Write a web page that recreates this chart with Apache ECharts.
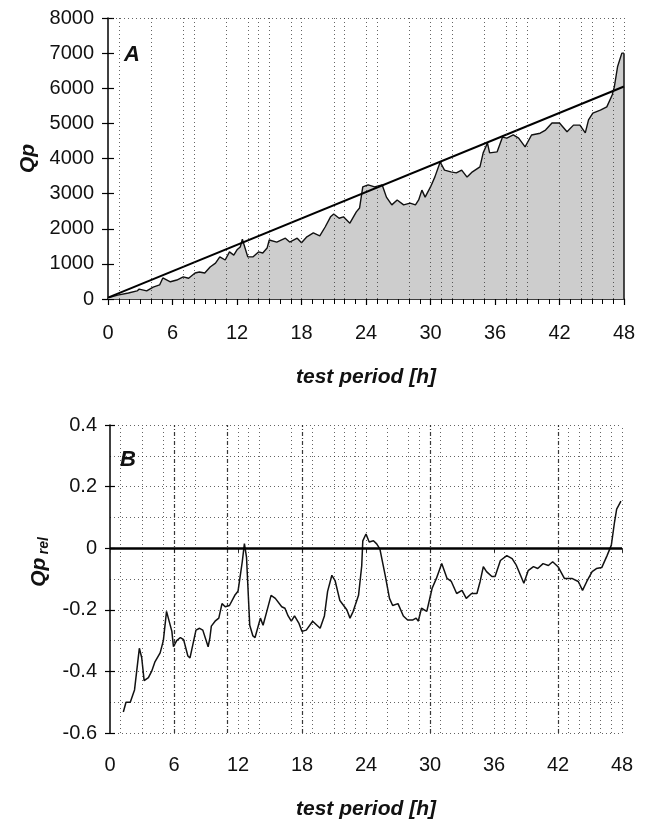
<!DOCTYPE html>
<html>
<head>
<meta charset="utf-8">
<style>html,body{margin:0;padding:0;background:#fff}#c{width:651px;height:821px}</style>
<script src="https://cdn.jsdelivr.net/npm/echarts@6/dist/echarts.min.js"></script>
</head>
<body>
<div id="c"></div>
<script>
// ---- data ----
var qpHours = [0,0.9,1.9,2.7,2.9,3.6,4.2,4.8,5.1,5.8,6.4,7.0,7.5,8.1,8.5,9.0,9.5,10.0,10.4,10.9,11.3,11.7,12.0,12.3,12.5,13.0,13.5,14.0,14.4,14.8,15.0,15.7,16.5,16.9,17.6,18.0,18.5,19.1,19.7,20.2,20.7,21.0,21.5,21.9,22.5,23.1,23.4,23.7,24.2,24.8,25.5,25.9,26.4,26.9,27.5,28.1,28.6,28.9,29.2,29.5,30.0,30.4,30.9,31.3,31.9,32.4,32.9,33.4,33.9,34.6,34.9,35.3,35.5,36.2,36.7,37.1,37.7,38.2,38.8,39.4,40.2,40.7,41.3,42.0,42.7,43.3,43.9,44.4,44.7,45.1,45.8,46.4,46.9,47.1,47.4,47.8,48.0];
var qpValues = [30,110,170,230,280,230,340,400,600,490,540,630,590,740,770,740,910,1020,1200,1110,1340,1250,1400,1480,1700,1200,1200,1340,1310,1450,1680,1620,1730,1620,1730,1600,1770,1880,1800,2050,2340,2420,2300,2340,2160,2480,2590,3190,3250,3190,3250,2900,2680,2820,2680,2730,2680,2820,3100,2900,3190,3470,3900,3670,3620,3590,3670,3470,3620,3760,4160,4440,4160,4190,4610,4580,4670,4580,4330,4670,4720,4810,5010,5010,4760,4950,4950,4730,5100,5290,5380,5470,5810,6040,6610,7000,7000];
var trendHours = [0, 48];
var trendValues = [40, 6050];
var relHours = [1.25,1.5,1.9,2.2,2.3,2.75,2.97,3.2,3.6,3.9,4.2,4.7,5.0,5.3,5.45,5.8,5.95,6.25,6.6,6.9,7.3,7.5,8.06,8.4,8.7,9.2,9.37,9.5,9.85,10.2,10.5,10.8,11.2,11.7,12.0,12.4,12.6,12.8,13.1,13.4,13.6,14.1,14.35,14.7,15.1,15.5,16.1,16.4,16.7,17.0,17.3,17.7,18.0,18.4,19.0,19.7,20.1,20.4,20.8,21.1,21.55,21.9,22.2,22.5,22.8,23.3,23.6,23.7,24.0,24.3,24.7,25.0,25.3,25.8,26.2,26.5,27.0,27.5,27.9,28.4,28.7,28.9,29.2,29.7,30.2,30.6,31.1,31.6,32.0,32.5,33.0,33.4,33.9,34.4,34.7,35.0,35.3,35.8,36.1,36.6,37.2,37.7,38.1,38.8,39.2,39.7,40.1,40.6,41.1,41.5,42.0,42.6,43.3,43.9,44.3,44.7,45.2,45.6,46.1,46.6,47.0,47.3,47.5,47.9];
var relValues = [-0.532,-0.50,-0.50,-0.47,-0.46,-0.325,-0.355,-0.43,-0.42,-0.40,-0.37,-0.34,-0.30,-0.205,-0.21,-0.27,-0.32,-0.30,-0.29,-0.297,-0.35,-0.356,-0.266,-0.26,-0.266,-0.32,-0.29,-0.253,-0.237,-0.227,-0.18,-0.19,-0.186,-0.153,-0.14,-0.044,0.015,-0.03,-0.25,-0.285,-0.29,-0.227,-0.25,-0.205,-0.153,-0.163,-0.19,-0.195,-0.22,-0.237,-0.22,-0.243,-0.27,-0.266,-0.237,-0.26,-0.22,-0.14,-0.088,-0.105,-0.17,-0.186,-0.20,-0.227,-0.205,-0.153,-0.057,0.024,0.046,0.020,0.024,0.014,-0.002,-0.088,-0.163,-0.186,-0.18,-0.22,-0.233,-0.233,-0.227,-0.237,-0.195,-0.205,-0.13,-0.098,-0.05,-0.098,-0.108,-0.147,-0.137,-0.163,-0.147,-0.147,-0.108,-0.06,-0.076,-0.092,-0.092,-0.04,-0.024,-0.034,-0.056,-0.114,-0.073,-0.06,-0.066,-0.05,-0.056,-0.044,-0.06,-0.098,-0.098,-0.108,-0.137,-0.108,-0.076,-0.066,-0.063,-0.024,0.01,0.085,0.127,0.153];
// vertical dotted event lines (hours)
var eventHoursA = [1,4,7,8,11,13,14,15,17,18,21,22,24,25,28,30,31,32,35,37,38,39,42,44,45,47];
var eventHoursB = [1,3,5,6,7,8,11,12,13,14,17,18,19,21,22,23,24,26,28,29,30,31,33,34,36,37,38,39,42,43,44,45,46,47];
var strongHoursB = [6,11,18,30,42];
var xTicks = [0,6,12,18,24,30,36,42,48];

function pairs(xs, ys){ return xs.map(function(x,i){ return [x, ys[i]]; }); }

var FF = "'Liberation Sans', Arial, Helvetica, sans-serif";
var labelStyle = {fontFamily: FF, fontSize: 20, color: '#111'};
var titleStyle = {fontFamily: FF, fontSize: 21, fontWeight: 'bold', fontStyle: 'italic', color: '#111'};

var chart = echarts.init(document.getElementById('c'), null, {renderer: 'canvas'});

var dotLine = {type: [1, 3], color: '#222', width: 1, opacity: 0.7};

var evA = eventHoursA.map(function(h){ return {xAxis: h}; });
var evB = eventHoursB.map(function(h){
  var strong = strongHoursB.indexOf(h) >= 0;
  return {xAxis: h, lineStyle: strong ? {type: [4,2,1,2], color: '#222', width: 1.2, opacity: 0.9} : dotLine};
});
var lastH = qpHours[qpHours.length-1], lastV = qpValues[qpValues.length-1];

var option = {
  animation: false,
  backgroundColor: '#fff',
  grid: [
    {left: 108, top: 18, width: 516, height: 281},
    {left: 110, top: 425, width: 512, height: 311}
  ],
  xAxis: [
    {type: 'value', gridIndex: 0, min: 0, max: 48, interval: 6,
     name: 'test period [h]', nameLocation: 'middle', nameGap: 68, nameTextStyle: titleStyle,
     axisLine: {lineStyle: {color: '#000', width: 1.5}},
     axisTick: {show: true, length: 6, lineStyle: {color: '#000', width: 1.2}},
     minorTick: {show: true, splitNumber: 6, length: 5, lineStyle: {color: '#000', width: 1}},
     axisLabel: Object.assign({margin: 24}, labelStyle),
     splitLine: {show: false}},
    {type: 'value', gridIndex: 1, min: 0, max: 48, interval: 6,
     name: 'test period [h]', nameLocation: 'middle', nameGap: 66, nameTextStyle: titleStyle,
     axisLine: {lineStyle: {color: '#555', width: 1}},
     axisTick: {show: true, length: 5, lineStyle: {color: '#333', width: 1}},
     axisLabel: Object.assign({margin: 22}, labelStyle),
     splitLine: {show: false}}
  ],
  yAxis: [
    {type: 'value', gridIndex: 0, min: 0, max: 8000, interval: 1000,
     name: 'Qp', nameLocation: 'middle', nameGap: 68, nameTextStyle: titleStyle,
     axisLine: {show: true, lineStyle: {color: '#000', width: 1.5}},
     axisTick: {show: true, length: 6, lineStyle: {color: '#000', width: 1.2}},
     axisLabel: Object.assign({margin: 14, formatter: function(v){ return String(v); }}, labelStyle),
     splitLine: {show: false}},
    {type: 'value', gridIndex: 0, min: 0, max: 8000, interval: 1000, position: 'left',
     axisLine: {show: false}, axisLabel: {show: false}, splitLine: {show: false},
     axisTick: {show: true, inside: true, length: 6, lineStyle: {color: '#000', width: 1.2}}},
    {type: 'value', gridIndex: 1, min: -0.6, max: 0.4, interval: 0.2,
     name: '{a|Qp} {b|rel}', nameLocation: 'middle', nameGap: 58,
     nameTextStyle: {padding: [0, 0, 0, 34], rich: {
       a: {fontFamily: FF, fontSize: 21, fontWeight: 'bold', fontStyle: 'italic', color: '#111'},
       b: {fontFamily: FF, fontSize: 14, fontWeight: 'bold', fontStyle: 'italic', color: '#111', padding: [10, 0, 0, 0]}
     }},
     axisLine: {show: true, lineStyle: {color: '#000', width: 1.5}},
     axisTick: {show: true, length: 5, lineStyle: {color: '#000', width: 1.2}},
     axisLabel: Object.assign({margin: 13, formatter: function(v){ return String(Math.round(v*10)/10); }}, labelStyle),
     splitLine: {show: true, lineStyle: dotLine},
     minorTick: {show: false, splitNumber: 2},
     minorSplitLine: {show: true, lineStyle: dotLine}},
    {type: 'value', gridIndex: 1, min: -0.6, max: 0.4, interval: 0.2, position: 'left',
     axisLine: {show: false}, axisLabel: {show: false}, splitLine: {show: false},
     axisTick: {show: true, inside: true, length: 5, lineStyle: {color: '#000', width: 1.2}}}
  ],
  graphic: [
    {type: 'text', left: 124, top: 44, style: {text: 'A', fontFamily: FF, fontSize: 22, fontWeight: 'bold', fontStyle: 'italic', fill: '#111'}},
    {type: 'text', left: 120, top: 449, style: {text: 'B', fontFamily: FF, fontSize: 22, fontWeight: 'bold', fontStyle: 'italic', fill: '#111'}}
  ],
  series: [
    {type: 'line', xAxisIndex: 0, yAxisIndex: 0, data: pairs(qpHours, qpValues),
     showSymbol: false, symbol: 'none', z: 3,
     lineStyle: {color: '#111', width: 1.4},
     areaStyle: {color: '#cdcdcd', opacity: 1},
     markLine: {silent: true, symbol: 'none', label: {show: false}, animation: false,
       lineStyle: dotLine,
       data: evA.concat([
         {yAxis: 8000},
         [{coord: [lastH, 8000]}, {coord: [lastH, lastV]}],
         [{coord: [lastH, 0], lineStyle: {type: 'solid', color: '#111', width: 1.5, opacity: 1}}, {coord: [lastH, lastV]}]
       ])}},
    {type: 'line', xAxisIndex: 0, yAxisIndex: 0, data: pairs(trendHours, trendValues),
     showSymbol: false, symbol: 'none', z: 4,
     lineStyle: {color: '#000', width: 2}},
    {type: 'line', xAxisIndex: 1, yAxisIndex: 2, data: pairs(relHours, relValues),
     showSymbol: false, symbol: 'none', z: 4,
     lineStyle: {color: '#111', width: 1.5},
     markLine: {silent: true, symbol: 'none', label: {show: false}, animation: false,
       lineStyle: dotLine,
       data: evB.concat([
         {xAxis: 48},
         {yAxis: 0, lineStyle: {type: 'solid', color: '#000', width: 2.5, opacity: 1}}
       ])}}
  ]
};
chart.setOption(option);
</script>
</body>
</html>
